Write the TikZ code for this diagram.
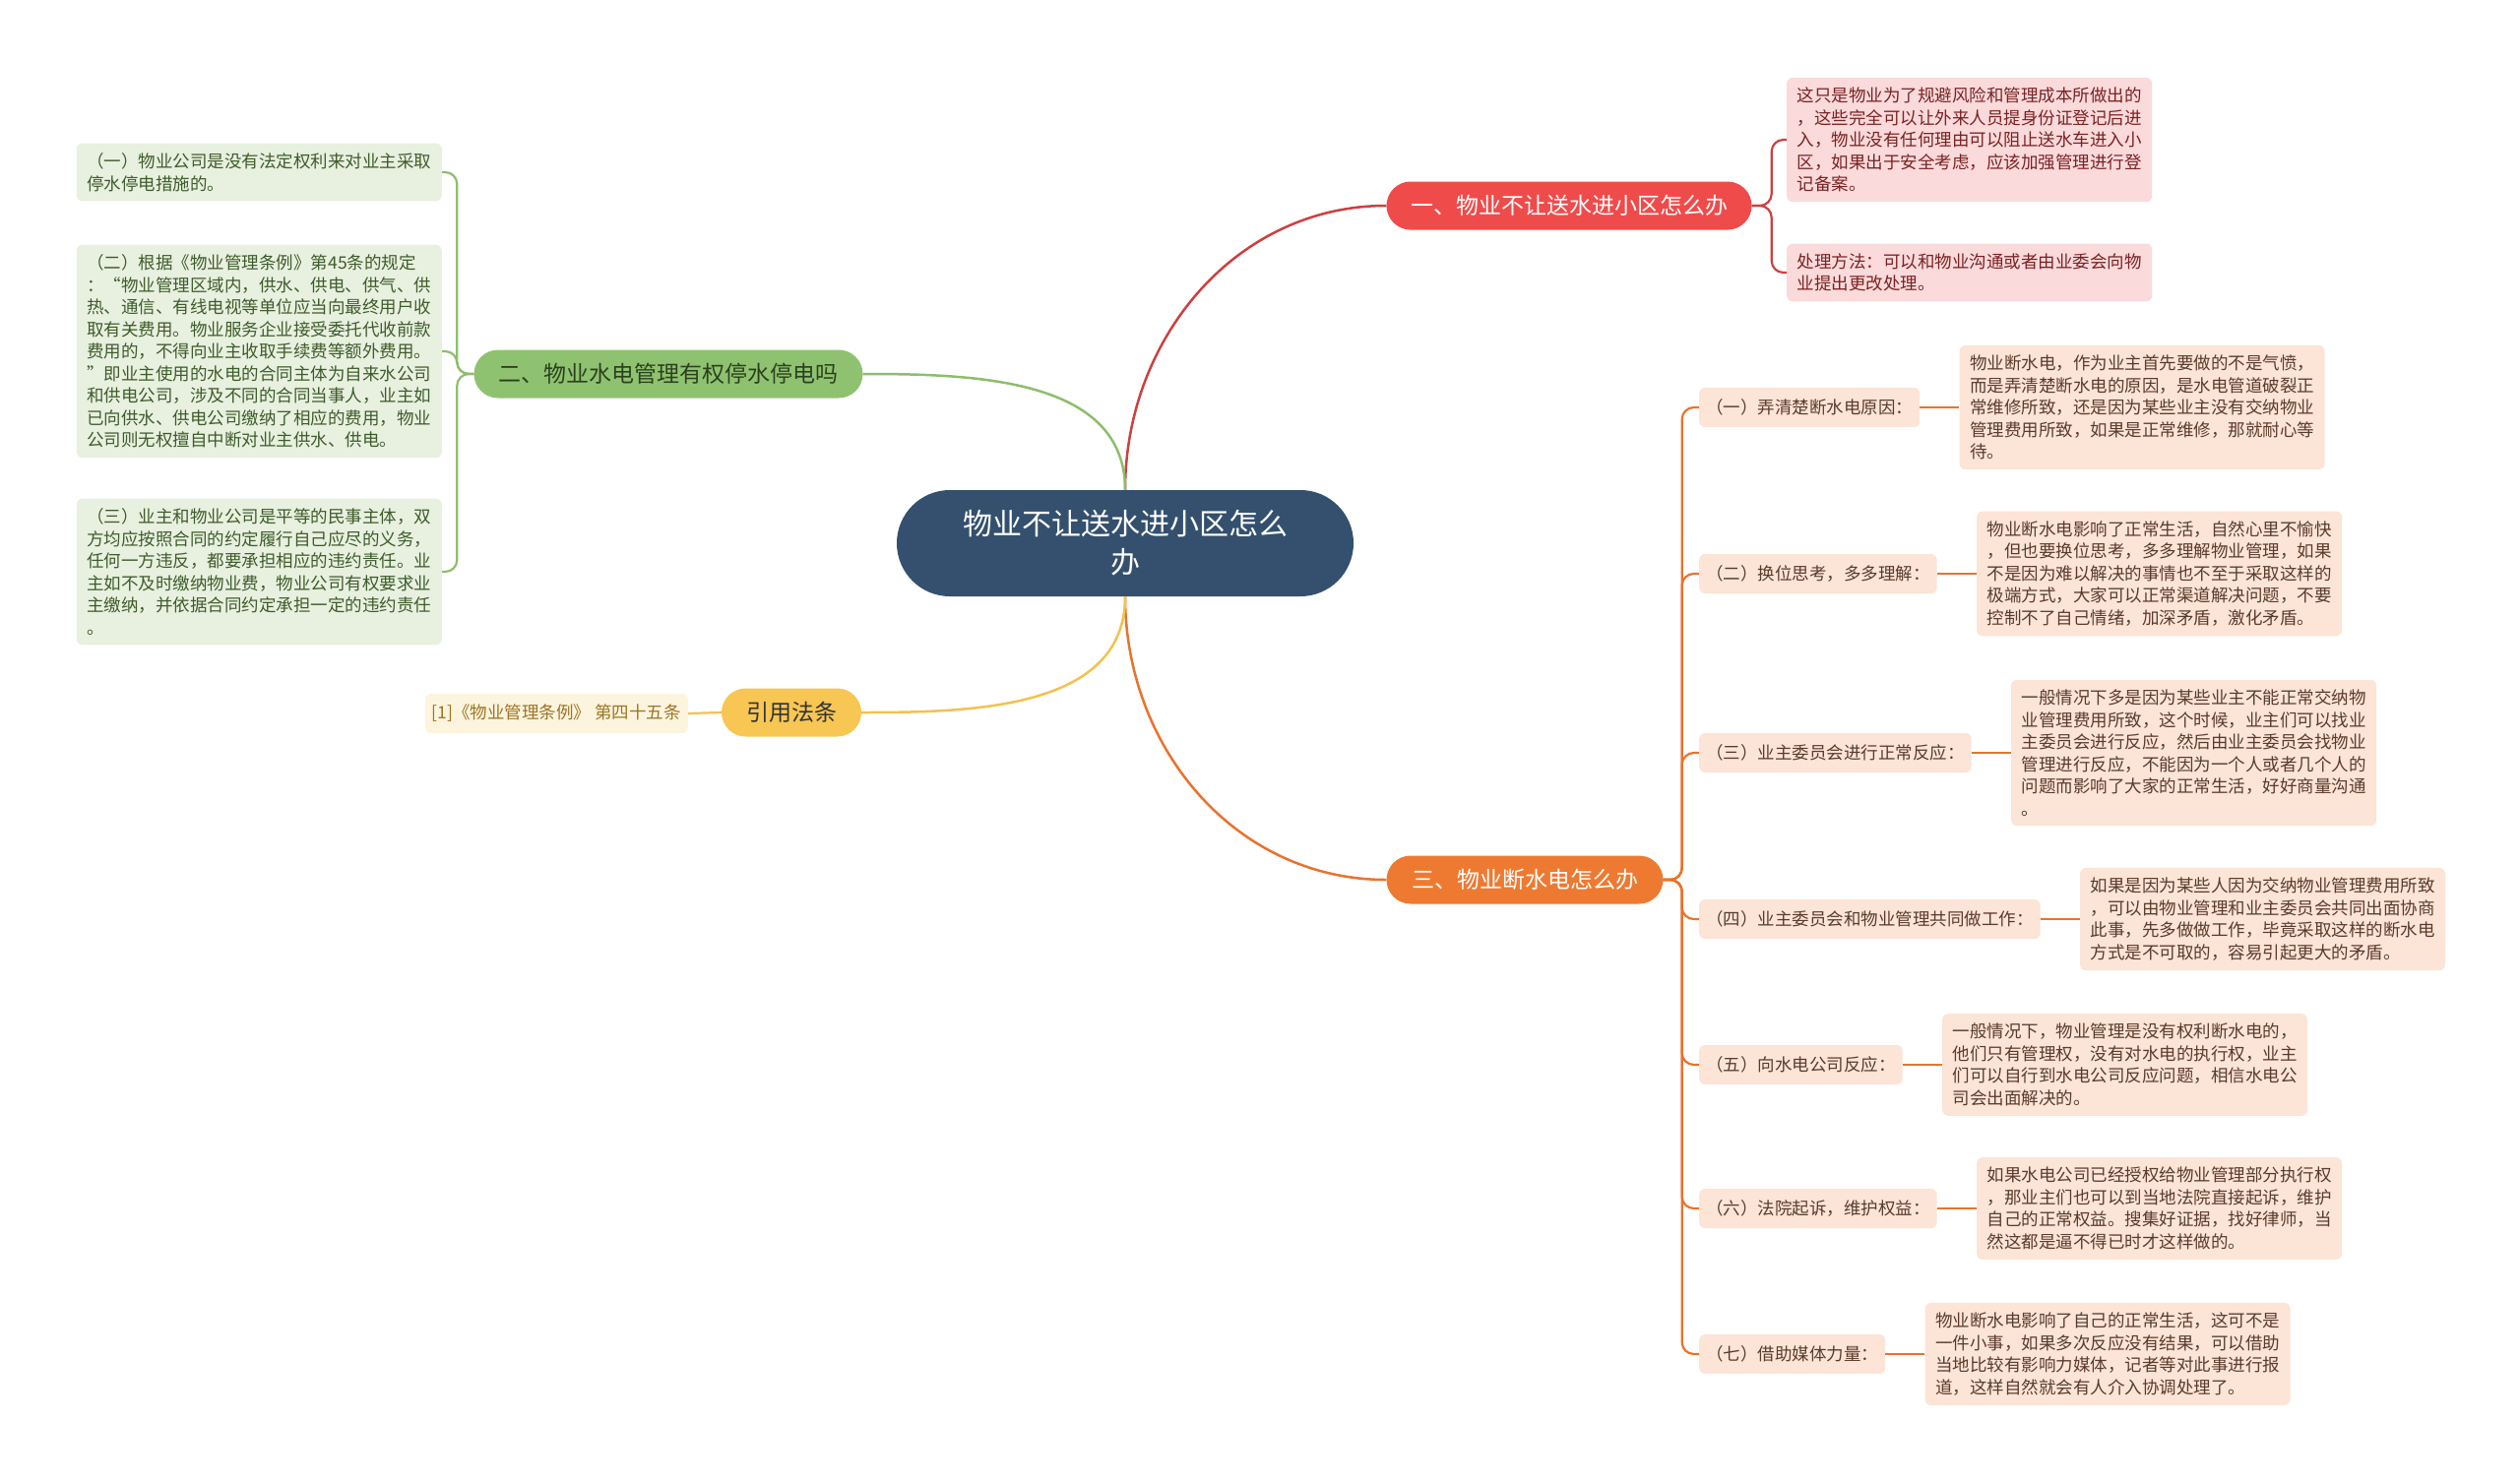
\documentclass[tikz,border=0pt]{standalone}
\usepackage{fontspec}
\usepackage{xcolor}
\usepackage{tikz}
\usetikzlibrary{positioning}
\newfontfamily\cjk{Noto Sans CJK SC}
\definecolor{rootblue}{HTML}{34506E}
\definecolor{redmain}{HTML}{EF4B4B}
\definecolor{redline}{HTML}{CC4040}
\definecolor{redsoft}{HTML}{FADADB}
\definecolor{redtext}{HTML}{7A2222}
\definecolor{greenmain}{HTML}{8FC270}
\definecolor{greenline}{HTML}{8DBE6C}
\definecolor{greensoft}{HTML}{E8F0E0}
\definecolor{greentext}{HTML}{3E5C2B}
\definecolor{yellowmain}{HTML}{F7C653}
\definecolor{yellowline}{HTML}{F2C24F}
\definecolor{yellowsoft}{HTML}{FDF4DE}
\definecolor{yellowtext}{HTML}{9C7524}
\definecolor{orangemain}{HTML}{EE7A31}
\definecolor{orangeline}{HTML}{E8732D}
\definecolor{orangesoft}{HTML}{FCE4D6}
\definecolor{orangetext}{HTML}{5B3B2A}

\begin{document}
\begin{tikzpicture}[
  x=1pt, y=1pt,
  rootnode/.style={rectangle, rounded corners=54pt, fill=rootblue, text=white, minimum width=464pt, minimum height=108pt, align=center, font=\cjk\fontsize{30}{39}\selectfont},
  branch/.style={rectangle, rounded corners=24.5pt, minimum height=49pt, inner xsep=0pt, align=center, font=\cjk\fontsize{23}{28}\selectfont},
  detail/.style={rectangle, rounded corners=6pt, text width=350pt, inner xsep=10.5pt, inner ysep=10pt, align=left, font=\cjk\fontsize{17.5}{22.5}\selectfont},
  subhead/.style={rectangle, rounded corners=6pt, fill=orangesoft, text=orangetext, minimum height=40pt, inner xsep=7pt, anchor=west, font=\cjk\fontsize{17.5}{22}\selectfont},
  link/.style={line width=2.5pt},
  twig/.style={line width=2.2pt, rounded corners=12pt},
]
  \useasboundingbox (0,0) rectangle (2560,-1505);

  \node[rootnode] (root) at (1143,-552) {物业不让送水进小区怎么\\办};

  \node[branch, fill=redmain, text=white, minimum width=371pt] (b1) at (1594,-209) {一、物业不让送水进小区怎么办};
  \node[branch, fill=greenmain, text=greentext!70!black, minimum width=395pt] (b2) at (679,-380) {二、物业水电管理有权停水停电吗};
  \node[branch, fill=orangemain, text=white, minimum width=281pt] (b3) at (1549,-894) {三、物业断水电怎么办};
  \node[branch, fill=yellowmain, text=black!80, minimum width=142pt] (b4) at (804,-724) {引用法条};

  \node[detail, fill=redsoft, text=redtext, anchor=west] (r1) at (1815,-142) {这只是物业为了规避风险和管理成本所做出的\\，这些完全可以让外来人员提身份证登记后进\\入，物业没有任何理由可以阻止送水车进入小\\区，如果出于安全考虑，应该加强管理进行登\\记备案。};
  \node[detail, fill=redsoft, text=redtext, anchor=west] (r2) at (1815,-277) {处理方法：可以和物业沟通或者由业委会向物\\业提出更改处理。};

  \node[detail, fill=greensoft, text=greentext, anchor=east] (g1) at (449,-175) {（一）物业公司是没有法定权利来对业主采取\\停水停电措施的。};
  \node[detail, fill=greensoft, text=greentext, anchor=east] (g2) at (449,-357) {（二）根据《物业管理条例》第45条的规定\\：“物业管理区域内，供水、供电、供气、供\\热、通信、有线电视等单位应当向最终用户收\\取有关费用。物业服务企业接受委托代收前款\\费用的，不得向业主收取手续费等额外费用。\\”即业主使用的水电的合同主体为自来水公司\\和供电公司，涉及不同的合同当事人，业主如\\已向供水、供电公司缴纳了相应的费用，物业\\公司则无权擅自中断对业主供水、供电。};
  \node[detail, fill=greensoft, text=greentext, anchor=east] (g3) at (449,-581) {（三）业主和物业公司是平等的民事主体，双\\方均应按照合同的约定履行自己应尽的义务，\\任何一方违反，都要承担相应的违约责任。业\\主如不及时缴纳物业费，物业公司有权要求业\\主缴纳，并依据合同约定承担一定的违约责任\\。};

  \node[subhead, fill=yellowsoft, text=yellowtext, anchor=east] (y1) at (699,-725) {[1]《物业管理条例》 第四十五条};

  \node[subhead] (o1) at (1726,-414) {（一）弄清楚断水电原因：};
  \node[subhead] (o2) at (1726,-583) {（二）换位思考，多多理解：};
  \node[subhead] (o3) at (1726,-765) {（三）业主委员会进行正常反应：};
  \node[subhead] (o4) at (1726,-934) {（四）业主委员会和物业管理共同做工作：};
  \node[subhead] (o5) at (1726,-1082) {（五）向水电公司反应：};
  \node[subhead] (o6) at (1726,-1228) {（六）法院起诉，维护权益：};
  \node[subhead] (o7) at (1726,-1376) {（七）借助媒体力量：};

  \node[detail, fill=orangesoft, text=orangetext, right=40pt of o1] (d1) {物业断水电，作为业主首先要做的不是气愤，\\而是弄清楚断水电的原因，是水电管道破裂正\\常维修所致，还是因为某些业主没有交纳物业\\管理费用所致，如果是正常维修，那就耐心等\\待。};
  \node[detail, fill=orangesoft, text=orangetext, right=40pt of o2] (d2) {物业断水电影响了正常生活，自然心里不愉快\\，但也要换位思考，多多理解物业管理，如果\\不是因为难以解决的事情也不至于采取这样的\\极端方式，大家可以正常渠道解决问题，不要\\控制不了自己情绪，加深矛盾，激化矛盾。};
  \node[detail, fill=orangesoft, text=orangetext, right=40pt of o3] (d3) {一般情况下多是因为某些业主不能正常交纳物\\业管理费用所致，这个时候，业主们可以找业\\主委员会进行反应，然后由业主委员会找物业\\管理进行反应，不能因为一个人或者几个人的\\问题而影响了大家的正常生活，好好商量沟通\\。};
  \node[detail, fill=orangesoft, text=orangetext, right=40pt of o4] (d4) {如果是因为某些人因为交纳物业管理费用所致\\，可以由物业管理和业主委员会共同出面协商\\此事，先多做做工作，毕竟采取这样的断水电\\方式是不可取的，容易引起更大的矛盾。};
  \node[detail, fill=orangesoft, text=orangetext, right=40pt of o5] (d5) {一般情况下，物业管理是没有权利断水电的，\\他们只有管理权，没有对水电的执行权，业主\\们可以自行到水电公司反应问题，相信水电公\\司会出面解决的。};
  \node[detail, fill=orangesoft, text=orangetext, right=40pt of o6] (d6) {如果水电公司已经授权给物业管理部分执行权\\，那业主们也可以到当地法院直接起诉，维护\\自己的正常权益。搜集好证据，找好律师，当\\然这都是逼不得已时才这样做的。};
  \node[detail, fill=orangesoft, text=orangetext, right=40pt of o7] (d7) {物业断水电影响了自己的正常生活，这可不是\\一件小事，如果多次反应没有结果，可以借助\\当地比较有影响力媒体，记者等对此事进行报\\道，这样自然就会有人介入协调处理了。};

  \draw[link, draw=redline] (root.north) to[out=90, in=180] (b1.west);
  \draw[link, draw=greenline] (b2.east) to[out=0, in=90] (root.north);
  \draw[link, draw=orangeline] (root.south) to[out=-90, in=180] (b3.west);
  \draw[link, draw=yellowline] (b4.east) to[out=0, in=-90] (root.south);

  \coordinate (rj) at ([xshift=20pt]b1.east);
  \coordinate (gj) at ([xshift=-17pt]b2.west);
  \coordinate (oj) at ([xshift=19pt]b3.east);

  \foreach \i in {1,2}
    \draw[twig, draw=redline] (b1.east) -- (rj) |- (r\i.west);
  \foreach \i in {1,2,3}
    \draw[twig, draw=greenline] (b2.west) -- (gj) |- (g\i.east);
  \draw[twig, draw=yellowline] (b4.west) -- (y1.east);
  \foreach \i in {1,...,7} {
    \draw[twig, draw=orangeline] (b3.east) -- (oj) |- (o\i.west);
    \draw[twig, draw=orangeline] (o\i.east) -- (d\i.west);
  }

\end{tikzpicture}
\end{document}
